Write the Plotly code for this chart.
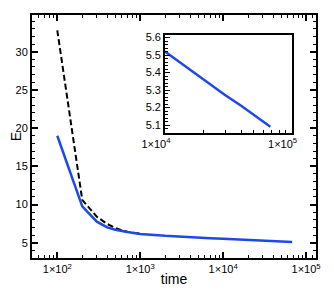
import plotly.graph_objects as go

# Data
t_blue = [100, 200, 300, 400, 500, 600, 700, 800, 900, 1000, 2000, 3000, 5000, 7000,
          10000, 20000, 30000, 40000, 50000, 60000, 68000]
E_blue = [19.0, 9.75, 7.75, 7.0, 6.7, 6.5, 6.4, 6.3, 6.22, 6.15, 5.9, 5.78, 5.68, 5.6,
          5.52, 5.36, 5.27, 5.21, 5.16, 5.12, 5.09]
t_black = [100, 200, 300, 400, 500, 600, 700, 800, 900, 1000]
E_black = [32.8, 10.6, 8.4, 7.45, 6.95, 6.62, 6.45, 6.33, 6.24, 6.17]

t_inset = [10000, 20000, 30000, 40000, 50000, 60000, 68000]
E_inset = [5.52, 5.36, 5.27, 5.21, 5.16, 5.12, 5.09]

x_tickvals = [100, 1000, 10000, 100000]
x_ticktext = ["1×10<sup>2</sup>", "1×10<sup>3</sup>", "1×10<sup>4</sup>", "1×10<sup>5</sup>"]
x_minorvals = [50, 60, 70, 80, 90,
               200, 300, 400, 500, 600, 700, 800, 900,
               2000, 3000, 4000, 5000, 6000, 7000, 8000, 9000,
               20000, 30000, 40000, 50000, 60000, 70000, 80000, 90000, 120000]
y_tickvals = [5, 10, 15, 20, 25, 30]
inset_xtickvals = [10000, 100000]
inset_xticktext = ["1×10<sup>4</sup>", "1×10<sup>5</sup>"]
inset_xminorvals = [20000, 30000, 40000, 50000, 60000, 70000, 80000, 90000]
inset_ytickvals = [5.1, 5.2, 5.3, 5.4, 5.5, 5.6]

BLUE = "#1f48e8"
FONT = "Liberation Sans, Arial, sans-serif"

fig = go.Figure()
fig.add_trace(go.Scatter(x=t_black, y=E_black, mode="lines",
                         line=dict(color="black", width=2, dash="6px,3px"),
                         xaxis="x", yaxis="y", showlegend=False))
fig.add_trace(go.Scatter(x=t_blue, y=E_blue, mode="lines",
                         line=dict(color=BLUE, width=2.5),
                         xaxis="x", yaxis="y", showlegend=False))
fig.add_trace(go.Scatter(x=t_inset, y=E_inset, mode="lines",
                         line=dict(color=BLUE, width=2.5),
                         xaxis="x2", yaxis="y2", showlegend=False))

fig.update_layout(
    width=326, height=284,
    margin=dict(l=24, r=18, t=7, b=34, autoexpand=False),
    paper_bgcolor="white", plot_bgcolor="white",
    font=dict(family=FONT, size=11, color="black"),
    xaxis=dict(
        type="log", range=[1.695, 5.12], automargin=False,
        tickmode="array", tickvals=x_tickvals, ticktext=x_ticktext,
        ticks="inside", ticklen=6, tickwidth=1.5, tickcolor="black",
        minor=dict(tickmode="array", tickvals=x_minorvals,
                   ticks="inside", ticklen=3, tickwidth=1, tickcolor="black"),
        showline=True, linecolor="black", linewidth=2, mirror="allticks",
        showgrid=False, zeroline=False,
        title=dict(text="time", font=dict(size=14), standoff=0),
        tickfont=dict(size=11),
    ),
    yaxis=dict(
        range=[3.0, 34.8], automargin=False,
        tickvals=y_tickvals,
        ticks="inside", ticklen=6, tickwidth=1.5, tickcolor="black",
        minor=dict(ticks="inside", ticklen=3, tickwidth=1, tickcolor="black", dtick=1),
        showline=True, linecolor="black", linewidth=2, mirror="allticks",
        showgrid=False, zeroline=False,
        title=dict(text="E", font=dict(size=14), standoff=0),
        tickfont=dict(size=11),
    ),
    xaxis2=dict(
        type="log", range=[4.0, 5.0], domain=[0.468, 0.914], anchor="y2", automargin=False,
        tickmode="array", tickvals=inset_xtickvals, ticktext=inset_xticktext,
        ticks="inside", ticklen=5, tickwidth=1, tickcolor="black",
        minor=dict(tickmode="array", tickvals=inset_xminorvals,
                   ticks="inside", ticklen=3, tickwidth=1, tickcolor="black"),
        showline=True, linecolor="black", linewidth=1.5, mirror=True,
        showgrid=False, zeroline=False, ticklabelshift=-9,
        tickfont=dict(size=11),
    ),
    yaxis2=dict(
        range=[5.057, 5.615], domain=[0.516, 0.918], anchor="x2", automargin=False,
        tickvals=inset_ytickvals, tickformat=".1f",
        ticks="inside", ticklen=5, tickwidth=1, tickcolor="black",
        minor=dict(ticks="inside", ticklen=3, tickwidth=1, tickcolor="black", dtick=0.02),
        showline=True, linecolor="black", linewidth=1.5, mirror=True,
        showgrid=False, zeroline=False,
        tickfont=dict(size=11),
    ),
)

fig.write_html("out.html")
